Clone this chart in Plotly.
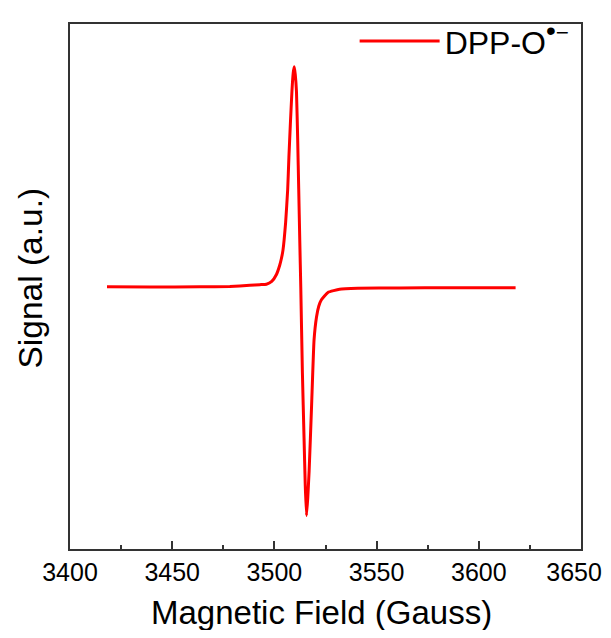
import plotly.graph_objects as go

# Magnetic field (Gauss) and signal (a.u.)
field = [3418.1, 3439.1, 3463.5, 3478.2, 3488.0, 3492.9, 3496.1, 3498.7, 3501.0,
         3502.6, 3503.4, 3504.2, 3505.5, 3506.5, 3507.1, 3507.8, 3508.6, 3509.2,
         3509.7, 3510.2, 3510.8, 3511.4, 3511.9, 3512.4, 3512.9, 3513.7, 3514.5,
         3515.1, 3515.7, 3516.3, 3517.0, 3518.2, 3519.4, 3520.6, 3521.7, 3523.0,
         3526.2, 3531.9, 3540.8, 3561.3, 3585.7, 3618.0]
signal = [0.000, -0.001, 0.000, 0.002, 0.007, 0.010, 0.012, 0.025, 0.057,
          0.100, 0.130, 0.170, 0.299, 0.451, 0.601, 0.753, 0.910, 0.990,
          1.020, 0.985, 0.904, 0.680, 0.452, 0.220, 0.000, -0.398, -0.700,
          -0.920, -1.060, -0.980, -0.852, -0.549, -0.246, -0.140, -0.090, -0.060,
          -0.026, -0.011, -0.007, -0.005, -0.004, -0.004]

x_ticks = [3400, 3450, 3500, 3550, 3600, 3650]
# last label padded so that it stays inside the visible window
x_tick_labels = ["3400", "3450", "3500", "3550", "3600", "3650\u00a0\u00a0"]
series_name = 'DPP-O<sup><span style="font-size:28px">•</span>−</sup>'

FONT = "Liberation Sans, Arial, sans-serif"

fig = go.Figure()
fig.add_trace(go.Scatter(
    x=field, y=signal, mode="lines", name=series_name,
    line=dict(color="#ff0000", width=3, shape="spline", smoothing=0.4),
))

# page has an 8px body margin: figure is offset by (8, 8); keep it inside the window
fig.update_layout(
    width=603, height=622,
    margin=dict(l=62, r=30, t=6, b=81),
    paper_bgcolor="white", plot_bgcolor="white",
    font=dict(family=FONT, color="black"),
    showlegend=True,
    legend=dict(
        x=0.557, y=1.0195, xanchor="left", yanchor="top",
        font=dict(size=32, family=FONT, color="black"),
        bgcolor="rgba(0,0,0,0)", itemwidth=80,
        tracegroupgap=0,
    ),
    xaxis=dict(
        range=[3400, 3650], tickvals=x_ticks,
        ticktext=x_tick_labels,
        ticks="inside", ticklen=8, tickwidth=1.5, tickcolor="#333",
        minor=dict(ticks="inside", ticklen=4, tickwidth=1.5, tickcolor="#333", dtick=25, tick0=3400),
        showline=True, linecolor="#333", linewidth=1.5, mirror=True,
        showgrid=False, zeroline=False, automargin=False,
        ticklabeloverflow="allow",
        tickfont=dict(size=25, family=FONT, color="black"),
    ),
    yaxis=dict(
        range=[-1.215, 1.218],
        showticklabels=False, ticks="",
        showline=True, linecolor="#333", linewidth=1.5, mirror=True,
        showgrid=False, zeroline=False, automargin=False,
    ),
    annotations=[
        dict(
            text="Signal (a.u.)", textangle=-90,
            xref="paper", yref="paper", x=0, y=0.5, xshift=-40, yshift=8,
            xanchor="center", yanchor="middle", showarrow=False,
            font=dict(size=33.5, family=FONT, color="black"),
        ),
        dict(
            text="Magnetic Field (Gauss)",
            xref="paper", yref="paper", x=0.5, y=0, xshift=-4, yshift=-63,
            xanchor="center", yanchor="middle", showarrow=False,
            font=dict(size=33, family=FONT, color="black"),
        ),
    ],
)

fig.write_html("out.html")
